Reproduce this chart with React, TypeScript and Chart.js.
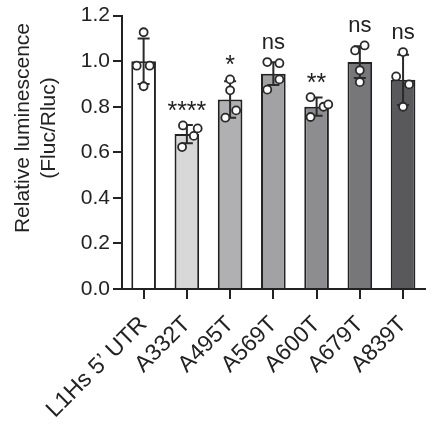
import React, { useEffect, useRef } from "react";
import { Chart, registerables } from "chart.js";

Chart.register(...registerables);

const categories = ["L1Hs 5’ UTR", "A332T", "A495T", "A569T", "A600T", "A679T", "A839T"];
const means = [1.0, 0.68, 0.832, 0.945, 0.80, 0.996, 0.918];
const sds = [0.1, 0.04, 0.08, 0.05, 0.04, 0.07, 0.11];
const barColors = ["#ffffff", "#d8d8d9", "#b0b0b2", "#a2a2a5", "#8d8d90", "#77777a", "#59595c"];
const significance = ["", "****", "*", "ns", "**", "ns", "ns"];
const yTitleLines = ["Relative luminescence", "(Fluc/Rluc)"];

// Replicate measurements per construct and their horizontal jitter (in category units)
const replicates = [
  [1.127, 0.98, 0.98, 0.89],
  [0.718, 0.672, 0.705, 0.623],
  [0.92, 0.872, 0.784, 0.752],
  [0.996, 0.991, 0.92, 0.875],
  [0.842, 0.80, 0.81, 0.755],
  [1.047, 1.069, 0.96, 0.908],
  [1.04, 0.933, 0.898, 0.80],
];
const jitter = [
  [0, -0.16, 0.14, 0],
  [-0.09, 0.16, 0.25, -0.11],
  [0, 0, 0.14, -0.11],
  [-0.14, 0.14, 0.14, -0.14],
  [-0.14, 0.16, 0.27, -0.14],
  [-0.11, 0.11, 0, 0],
  [0, -0.16, 0.14, 0],
];
const yTicks = [0, 0.2, 0.4, 0.6, 0.8, 1.0, 1.2];

const FONT = "'Liberation Sans', Arial, sans-serif";
const INK = "#222222";

const pointData = replicates.flatMap((vals, i) =>
  vals.map((v, j) => ({ x: i + jitter[i][j], y: v }))
);

const errorBarPlugin = {
  id: "errorBars",
  afterDatasetDraw(chart: any, args: any) {
    if (args.index !== 0) return;
    const { ctx } = chart;
    const xs = chart.scales.x;
    const ys = chart.scales.y;
    ctx.save();
    ctx.strokeStyle = "#2a2a2a";
    ctx.lineWidth = 2;
    means.forEach((m, i) => {
      const x = xs.getPixelForValue(i);
      const yTop = ys.getPixelForValue(m + sds[i]);
      const yBot = ys.getPixelForValue(m - sds[i]);
      ctx.beginPath();
      ctx.moveTo(x, yTop);
      ctx.lineTo(x, yBot);
      ctx.moveTo(x - 6, yTop);
      ctx.lineTo(x + 6, yTop);
      ctx.moveTo(x - 6, yBot);
      ctx.lineTo(x + 6, yBot);
      ctx.stroke();
    });
    ctx.restore();
  },
};

const significancePlugin = {
  id: "significance",
  afterDatasetsDraw(chart: any) {
    const { ctx } = chart;
    const xs = chart.scales.x;
    const ys = chart.scales.y;
    ctx.save();
    ctx.fillStyle = INK;
    ctx.textAlign = "center";
    ctx.textBaseline = "alphabetic";
    significance.forEach((label, i) => {
      if (!label) return;
      const top = Math.max(means[i] + sds[i], ...replicates[i]);
      const yTop = ys.getPixelForValue(top);
      const isStar = label.includes("*");
      ctx.font = `${isStar ? 25 : 22}px ${FONT}`;
      const m = ctx.measureText(label);
      const asc = m.actualBoundingBoxAscent;
      const desc = m.actualBoundingBoxDescent;
      const centerY = yTop - 19;
      const baseline = centerY + (asc - desc) / 2;
      ctx.fillText(label, xs.getPixelForValue(i), baseline);
    });
    ctx.restore();
  },
};

// Two-line y-axis title, rotated, centred a little above the middle of the plot
const yTitlePlugin = {
  id: "yTitle",
  afterDraw(chart: any) {
    const { ctx } = chart;
    ctx.save();
    ctx.fillStyle = INK;
    ctx.font = `21px ${FONT}`;
    ctx.textAlign = "center";
    ctx.textBaseline = "middle";
    const centers = [23, 49];
    yTitleLines.forEach((line, i) => {
      ctx.save();
      ctx.translate(centers[i], 128);
      ctx.rotate(-Math.PI / 2);
      ctx.fillText(line, 0, 0);
      ctx.restore();
    });
    ctx.restore();
  },
};

export default function App() {
  const canvasRef = useRef<HTMLCanvasElement | null>(null);

  useEffect(() => {
    if (!canvasRef.current) return;
    const chart = new Chart(canvasRef.current, {
      type: "bar",
      data: {
        labels: categories,
        datasets: [
          {
            type: "bar",
            data: means,
            backgroundColor: barColors,
            borderColor: INK,
            borderWidth: 2,
            barPercentage: 0.57,
            categoryPercentage: 1,
            grouped: false,
            order: 2,
          } as any,
          {
            type: "scatter",
            data: pointData,
            xAxisID: "xPts",
            pointRadius: 4,
            pointBackgroundColor: "#ffffff",
            pointBorderColor: "#2a2a2a",
            pointBorderWidth: 1.8,
            order: 1,
          } as any,
        ],
      },
      options: {
        animation: false,
        responsive: false,
        maintainAspectRatio: false,
        layout: { padding: { top: 15, right: 2, left: 0, bottom: 0 } },
        plugins: {
          legend: { display: false },
          tooltip: { enabled: false },
        },
        scales: {
          x: {
            type: "category",
            offset: true,
            grid: {
              display: true,
              offset: false,
              drawOnChartArea: false,
              tickLength: 10,
              tickColor: INK,
              lineWidth: 2,
            },
            border: { color: INK, width: 2 },
            ticks: {
              color: INK,
              font: { family: FONT, size: 23 },
              maxRotation: 45,
              minRotation: 45,
              autoSkip: false,
              padding: 12,
            },
            afterFit(scale: any) {
              scale.height = 141;
            },
          },
          xPts: {
            type: "linear",
            display: false,
            min: -0.5,
            max: categories.length - 0.5,
            offset: false,
          },
          y: {
            min: 0,
            max: 1.2,
            afterBuildTicks(scale: any) {
              scale.ticks = yTicks.map((v) => ({ value: v }));
            },
            grid: {
              display: true,
              drawOnChartArea: false,
              tickLength: 9,
              tickColor: INK,
              lineWidth: 2,
            },
            border: { color: INK, width: 2 },
            ticks: {
              color: INK,
              font: { family: FONT, size: 21 },
              padding: 3,
              callback: (v: any) => Number(v).toFixed(1),
            },
            afterFit(scale: any) {
              scale.width = 122;
            },
          },
        },
      } as any,
      plugins: [errorBarPlugin, significancePlugin, yTitlePlugin],
    });
    return () => chart.destroy();
  }, []);

  return (
    <div style={{ position: "absolute", left: 0, top: 0, width: 435, height: 430, background: "#fff" }}>
      <canvas ref={canvasRef} width={435} height={430} style={{ display: "block" }} />
    </div>
  );
}
